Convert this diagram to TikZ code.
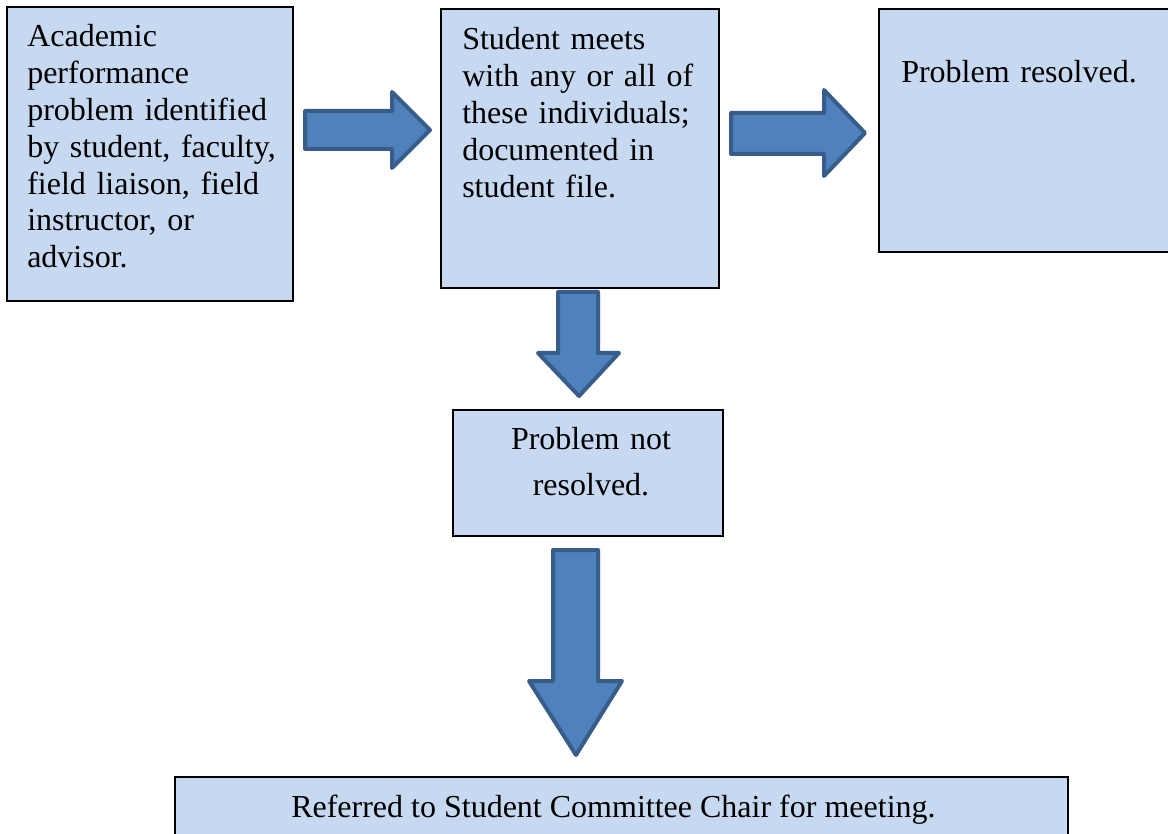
\documentclass[tikz,border=0pt]{standalone}
\usepackage{fontspec}
\setmainfont{Liberation Serif}
\usetikzlibrary{fit}
\definecolor{boxfill}{HTML}{C6D9F1}
\definecolor{arrowfill}{HTML}{4F81BD}
\definecolor{arrowline}{HTML}{385D8A}
\tikzset{
  box/.style={draw=black, line width=1.5pt, fill=boxfill, inner sep=0pt},
  lbl/.style={inner sep=0pt, font=\fontsize{24}{27.6}\selectfont, align=left, anchor=base west},
  blockarrow/.style={draw=arrowline, fill=arrowfill, line width=3pt, line join=round}
}
\begin{document}
\begin{tikzpicture}[x=0.75pt,y=-0.75pt]
\useasboundingbox (0,0) rectangle (1168,834);
\clip (0,0) rectangle (1168,834);
\fill[white] (0,0) rectangle (1168,834);

% boxes
\node[box, fit={(7,7)(293,301)}] (b1) {};
\node[box, fit={(441,9)(719,288)}] (b2) {};
\node[box, fit={(879,9)(1180,252)}] (b3) {};
\node[box, fit={(453,410)(723,536)}] (b4) {};
\node[box, fit={(175,777)(1068,850)}] (b5) {};

% texts
\node[lbl, text width=210pt] (t1) at (27,47) {Academic\\performance\\problem identified\\by student, faculty,\\field liaison, field\\instructor, or\\advisor.};
\node[lbl, text width=200pt] (t2) at (462,50) {Student meets\\with any or all of\\these individuals;\\documented in\\student file.};
\node[lbl, text width=200pt] (t3) at (901,83) {Problem resolved.};
\node[inner sep=0pt, font=\fontsize{24}{34.5}\selectfont, align=center, anchor=base, text width=190pt] (t4) at (591,450) {Problem not\\resolved.};
\node[lbl] (t5) at (291,817) {Referred to Student Committee Chair for meeting.};

% block arrows
\draw[blockarrow] (305,111) -- (392,111) -- (392,92) -- (430,130) -- (392,168) -- (392,149) -- (305,149) -- cycle;
\draw[blockarrow] (731,113) -- (824,113) -- (824,90) -- (865,133) -- (824,176) -- (824,154) -- (731,154) -- cycle;
\draw[blockarrow] (558,292) -- (598,292) -- (598,353) -- (619,353) -- (579,396) -- (538,353) -- (558,353) -- cycle;
\draw[blockarrow] (553,550) -- (598,550) -- (598,681) -- (622,681) -- (576,755) -- (529,681) -- (553,681) -- cycle;
\end{tikzpicture}
\end{document}
